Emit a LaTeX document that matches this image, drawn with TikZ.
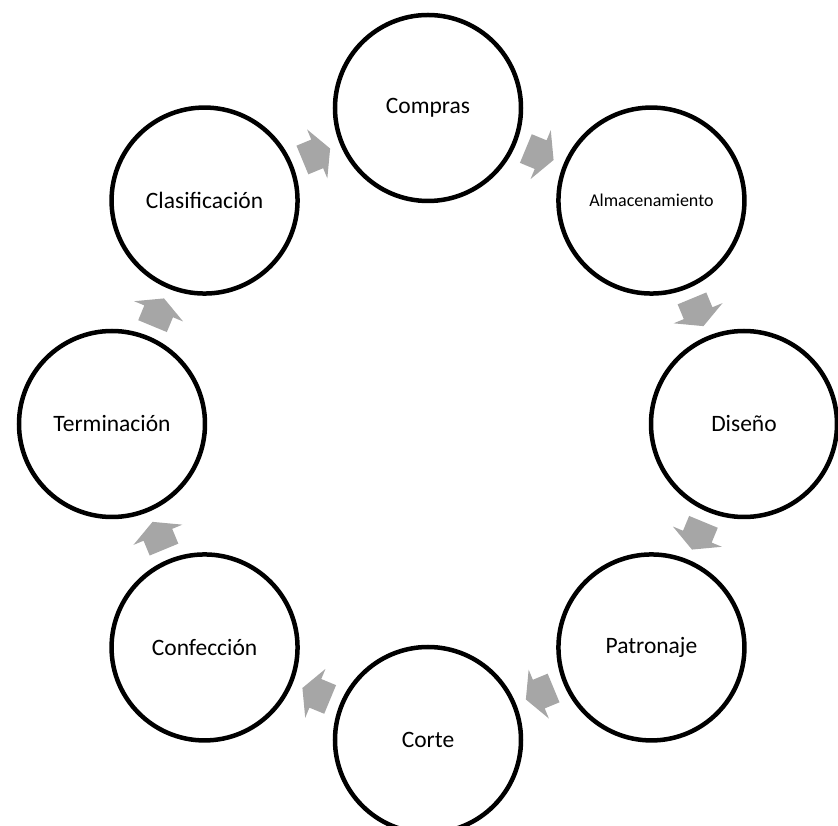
\documentclass[tikz,border=0pt]{standalone}
\usepackage{fontspec}
\setmainfont{Carlito}
\definecolor{arrowgray}{HTML}{A6A6A6}
\tikzset{
  stage/.style={circle, draw=black, line width=4.5pt, fill=white, minimum size=186pt, inner sep=0pt, font=\fontsize{23.5}{28}\selectfont, text=black},
  cyclearrow/.pic={\fill[arrowgray] (-15,-15.5) -- (1,-15.5) -- (1,-26.5) -- (15,0) -- (1,26.5) -- (1,15.5) -- (-15,15.5) -- cycle;},
  arrowplace/.style={midway, sloped, allow upside down}
}
\begin{document}
\begin{tikzpicture}[x=1pt,y=1pt]
\useasboundingbox (-428,-402) rectangle (410,424);
\node[stage] (compras) at (90:316) {Compras};
\node[stage, font=\fontsize{18}{22}\selectfont] (almac) at (45:316) {Almacenamiento};
\node[stage] (diseno) at (0:316) {Diseño};
\node[stage] (patron) at (-45:316) {Patronaje};
\node[stage] (corte) at (-90:316) {Corte};
\node[stage] (confec) at (-135:316) {Confección};
\node[stage] (termin) at (180:316) {Terminación};
\node[stage] (clasif) at (135:316) {Clasificación};
\path (compras) -- pic[arrowplace]{cyclearrow} (almac);
\path (almac) -- pic[arrowplace]{cyclearrow} (diseno);
\path (diseno) -- pic[arrowplace]{cyclearrow} (patron);
\path (patron) -- pic[arrowplace]{cyclearrow} (corte);
\path (corte) -- pic[arrowplace]{cyclearrow} (confec);
\path (confec) -- pic[arrowplace]{cyclearrow} (termin);
\path (termin) -- pic[arrowplace]{cyclearrow} (clasif);
\path (clasif) -- pic[arrowplace]{cyclearrow} (compras);
\end{tikzpicture}
\end{document}
